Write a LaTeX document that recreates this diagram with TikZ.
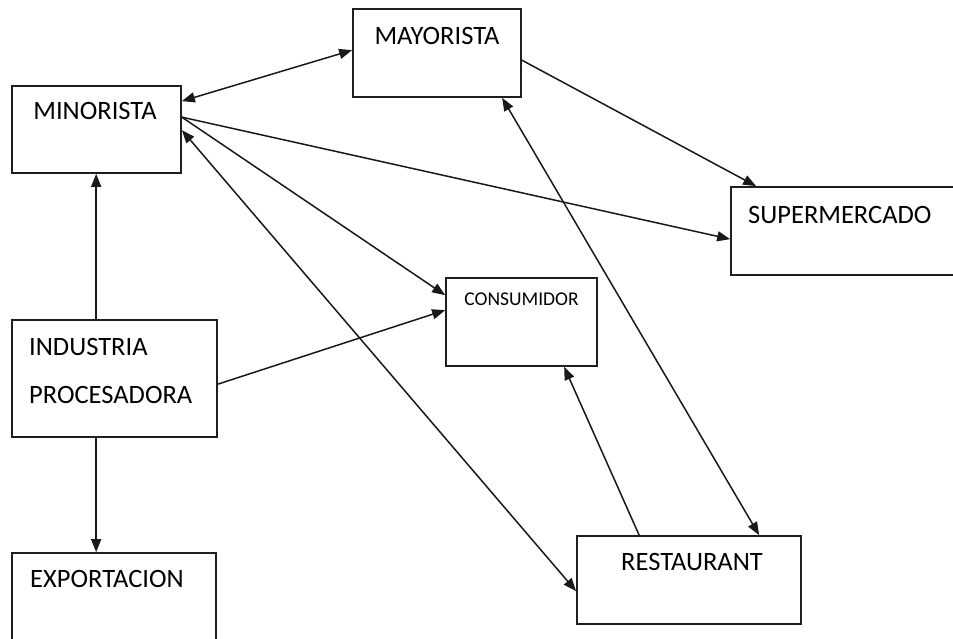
\documentclass[tikz,border=0pt]{standalone}
\usepackage{fontspec}
\setmainfont{Carlito}
\usetikzlibrary{arrows.meta,calc}
\begin{document}
\begin{tikzpicture}[x=1pt,y=-1pt,
  box/.style={draw=black!88,line width=1.7pt,rectangle,inner sep=0pt,fill=white},
  lbl/.style={inner sep=0pt,font=\fontsize{26.5}{29}\selectfont,text=black},
  smalllbl/.style={inner sep=0pt,font=\fontsize{19.5}{22}\selectfont,text=black},
  conn/.style={line width=1.5pt,draw=black!90,-{Triangle[length=13pt,width=10pt]}},
  bconn/.style={line width=1.5pt,draw=black!90,{Triangle[length=13pt,width=10pt]}-{Triangle[length=13pt,width=10pt]}}]
\useasboundingbox (0,0) rectangle (953,638);
\clip (0,0) rectangle (953,638);
\fill[white] (0,0) rectangle (953,638);
% boxes
\node[box,minimum width=168pt,minimum height=88pt] (may) at (437,53) {};
\node[box,minimum width=169pt,minimum height=87pt] (min) at (96.5,129.5) {};
\node[box,minimum width=240pt,minimum height=88pt] (sup) at (851,231) {};
\node[box,minimum width=151pt,minimum height=88pt] (con) at (521.5,322) {};
\node[box,minimum width=205pt,minimum height=117pt] (ind) at (114.5,378.5) {};
\node[box,minimum width=224pt,minimum height=88pt] (res) at (689,580) {};
\node[box,minimum width=204pt,minimum height=110pt] (exp) at (114,608) {};
% labels
\node[lbl] (mayt) at (437,35.5) {MAYORISTA};
\node[lbl] (mint) at (95,111) {MINORISTA};
\node[lbl,anchor=west] (supt) at (748,214.5) {SUPERMERCADO};
\node[smalllbl] (cont) at (521.5,299.5) {CONSUMIDOR};
\node[lbl,anchor=west] (indt1) at (29,346.5) {INDUSTRIA};
\node[lbl,anchor=west] (indt2) at (29,395) {PROCESADORA};
\node[lbl] (rest) at (692,562) {RESTAURANT};
\node[lbl,anchor=west] (expt) at (30,578.5) {EXPORTACION};
% connectors
\draw[bconn] ($(min.north east)+(0,16)$) -- ($(may.north west)+(0,42)$);
\draw[conn] ($(min.north east)+(0,32)$) -- ($(sup.north west)+(0,53)$);
\draw[conn] ($(min.north east)+(0,32)$) -- ($(con.north west)+(0,18)$);
\draw[bconn] ($(min.north east)+(0,45)$) -- ($(res.north west)+(0,56)$);
\draw[conn] ($(may.north east)+(0,52)$) -- ($(sup.north west)+(26,0)$);
\draw[bconn] ($(may.south west)+(150,0)$) -- ($(res.north west)+(183,0)$);
\draw[conn] ($(ind.north west)+(85,0)$) -- ($(min.south west)+(85,0)$);
\draw[conn] ($(ind.south west)+(85,0)$) -- ($(exp.north west)+(85,0)$);
\draw[conn] ($(ind.north east)+(0,65)$) -- ($(con.north west)+(0,33)$);
\draw[conn] ($(res.north west)+(63,0)$) -- ($(con.south west)+(119,0)$);
\end{tikzpicture}
\end{document}
